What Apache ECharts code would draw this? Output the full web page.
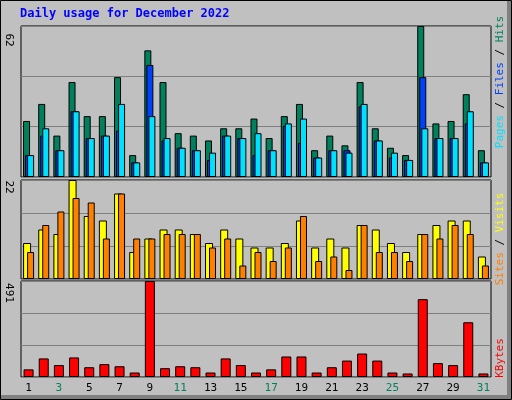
<!DOCTYPE html>
<html><head><meta charset="utf-8">
<script src="https://cdn.jsdelivr.net/npm/echarts@6/dist/echarts.min.js"></script>
<style>html,body{margin:0;padding:0;background:#c0c0c0}#c{width:512px;height:400px}</style>
</head><body><div id="c"></div>
<script>
const days = ['1','2','3','4','5','6','7','8','9','10','11','12','13','14','15','16','17','18','19','20','21','22','23','24','25','26','27','28','29','30','31'];
const weekend = ['3','4','10','11','17','18','24','25','31'];
const hits  = [23,30,17,39,25,25,41,9,52,39,18,17,15,20,20,24,16,25,30,11,17,13,39,20,12,9,62,22,23,34,11];
const files = [9,17,11,27,16,17,19,6,46,15,12,11,7,17,16,9,11,21,14,8,11,11,29,15,8,7,41,16,16,22,6];
const pages = [9,20,11,27,16,17,30,6,25,16,12,11,10,17,16,18,11,22,24,8,11,10,30,15,10,7,20,16,16,27,6];
const visits= [8,11,10,22,14,13,19,6,9,11,11,10,8,11,9,7,7,8,13,7,9,7,12,11,8,6,10,12,13,13,5];
const sites = [6,12,15,18,17,9,19,9,9,10,10,10,7,9,3,6,4,7,14,4,5,2,12,6,6,4,10,9,12,10,3];
const kbytes= [39,95,61,100,50,66,55,23,491,45,55,50,23,95,61,23,39,105,105,23,50,84,120,84,23,18,398,71,61,280,18];
const maxTop = 62, maxMid = 22, maxBot = 491;

const mono = 'DejaVu Sans Mono';
const grids = [
  {left:21, width:470, top:26, height:151},
  {left:21, width:470, top:180, height:99},
  {left:21, width:470, top:281, height:96}
];
function xa(i, show){
  return {type:'category', gridIndex:i, data:days, boundaryGap:true,
    axisLine:{show:false}, axisTick:{show:false},
    axisLabel:{show:show, fontFamily:mono, fontSize:11, margin:6,
      color:(v)=>weekend.includes(v)?'#00805c':'#000'}};
}
function ya(i, max){
  return {type:'value', gridIndex:i, min:0, max:max, interval:max/3,
    axisLabel:{show:false}, axisLine:{show:false}, axisTick:{show:false},
    splitLine:{show:true, lineStyle:{color:'#808080', width:1}}};
}
function bar(name, data, idx, color, w, gap, z){
  return {name, type:'bar', xAxisIndex:idx, yAxisIndex:idx, data, barWidth:w, barGap:gap,
    itemStyle:{color, borderColor:'#000', borderWidth:1}, z:z, animation:false};
}
const chart = echarts.init(document.getElementById('c'));
chart.setOption({
  backgroundColor:'#c0c0c0',
  animation:false,
  grid: grids.map(g=>Object.assign({show:true, backgroundColor:'#c0c0c0', borderColor:'#000', borderWidth:1},g)),
  xAxis:[xa(0,false), xa(1,false), xa(2,true)],
  yAxis:[ya(0,maxTop), ya(1,maxMid), ya(2,maxBot)],
  series:[
    bar('Hits', hits, 0, '#00805c', 7, '-71%', 2),
    bar('Files', files, 0, '#0040ff', 7, '-71%', 3),
    bar('Pages', pages, 0, '#00e0ff', 7, '-71%', 4),
    bar('Visits', visits, 1, '#ffff00', 8, '-50%', 2),
    bar('Sites', sites, 1, '#ff8000', 7, '-50%', 3),
    bar('KBytes', kbytes, 2, '#ff0000', 10, '0%', 2)
  ],
  graphic:[
    {type:'rect', shape:{x:0.5,y:0.5,width:511,height:399}, style:{fill:null, stroke:'#000', lineWidth:1}, z:100},
    {type:'rect', shape:{x:507,y:1,width:4,height:398}, style:{fill:'#808080'}, z:99},
    {type:'rect', shape:{x:1,y:395,width:510,height:4}, style:{fill:'#808080'}, z:99},
    {type:'text', left:20, top:8, style:{text:'Daily usage for December 2022', fill:'#0000ff', font:'bold 12px '+mono}},
    {type:'text', x:9, y:40, rotation:-Math.PI/2, style:{text:'62', fill:'#000', font:'11px '+mono, align:'center', verticalAlign:'middle'}, },
    {type:'text', x:9, y:187, rotation:-Math.PI/2, style:{text:'22', fill:'#000', font:'11px '+mono, align:'center', verticalAlign:'middle'}},
    {type:'text', x:9, y:293, rotation:-Math.PI/2, style:{text:'491', fill:'#000', font:'11px '+mono, align:'center', verticalAlign:'middle'}},
    {type:'text', x:500, y:82, rotation:Math.PI/2, style:{
      text:'{p|Pages}{s| / }{f|Files}{s| / }{h|Hits}', align:'center', verticalAlign:'middle', font:'11px '+mono,
      rich:{p:{fill:'#00e0ff',font:'11px '+mono},f:{fill:'#0040ff',font:'11px '+mono},h:{fill:'#00805c',font:'11px '+mono},s:{fill:'#000',font:'11px '+mono}}}},
    {type:'text', x:500, y:239, rotation:Math.PI/2, style:{
      text:'{o|Sites}{s| / }{y|Visits}', align:'center', verticalAlign:'middle', font:'11px '+mono,
      rich:{o:{fill:'#ff8000',font:'11px '+mono},y:{fill:'#ffff00',font:'11px '+mono},s:{fill:'#000',font:'11px '+mono}}}},
    {type:'text', x:500, y:358, rotation:Math.PI/2, style:{text:'KBytes', fill:'#ff0000', font:'11px '+mono, align:'center', verticalAlign:'middle'}}
  ]
});
</script></body></html>
